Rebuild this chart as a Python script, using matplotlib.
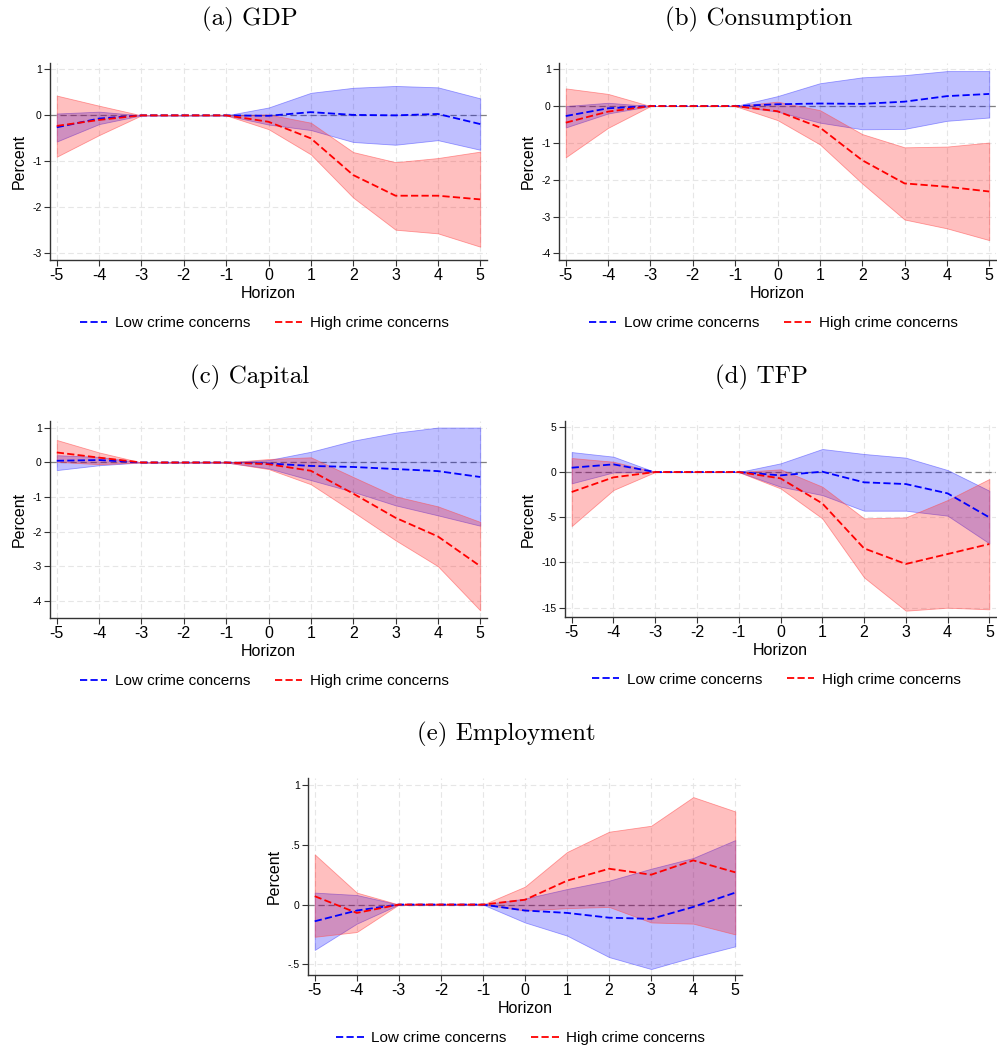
import numpy as np
import matplotlib.pyplot as plt
from matplotlib.lines import Line2D

plt.rcParams['font.family'] = ['Liberation Sans', 'DejaVu Sans']
plt.rcParams['axes.unicode_minus'] = False

horizon = [-5, -4, -3, -2, -1, 0, 1, 2, 3, 4, 5]

# (a) GDP
gdp_low = [-0.26, -0.07, 0, 0, 0, -0.01, 0.07, 0.01, 0.0, 0.03, -0.19]
gdp_low_hi = [0.04, 0.08, 0, 0, 0, 0.17, 0.49, 0.60, 0.64, 0.61, 0.37]
gdp_low_lo = [-0.57, -0.19, 0, 0, 0, -0.20, -0.32, -0.58, -0.64, -0.54, -0.75]
gdp_high = [-0.23, -0.10, 0, 0, 0, -0.14, -0.50, -1.30, -1.75, -1.75, -1.83]
gdp_high_hi = [0.43, 0.21, 0, 0, 0, 0.02, -0.16, -0.80, -1.02, -0.93, -0.79]
gdp_high_lo = [-0.90, -0.43, 0, 0, 0, -0.30, -0.85, -1.79, -2.49, -2.57, -2.86]

# (b) Consumption
con_low = [-0.27, -0.06, 0, 0, 0, 0.05, 0.07, 0.06, 0.12, 0.27, 0.33]
con_low_hi = [0.0, 0.09, 0, 0, 0, 0.27, 0.62, 0.78, 0.84, 0.95, 0.95]
con_low_lo = [-0.58, -0.20, 0, 0, 0, -0.15, -0.45, -0.63, -0.62, -0.40, -0.31]
con_high = [-0.45, -0.15, 0, 0, 0, -0.14, -0.58, -1.47, -2.10, -2.19, -2.32]
con_high_hi = [0.48, 0.33, 0, 0, 0, 0.12, -0.11, -0.76, -1.12, -1.10, -0.99]
con_high_lo = [-1.39, -0.59, 0, 0, 0, -0.38, -1.04, -2.10, -3.08, -3.32, -3.64]

# (c) Capital
cap_low = [0.05, 0.07, 0, 0, 0, -0.03, -0.10, -0.13, -0.19, -0.25, -0.42]
cap_low_hi = [0.21, 0.16, 0, 0, 0, 0.07, 0.31, 0.63, 0.86, 1.01, 1.01]
cap_low_lo = [-0.22, -0.08, 0, 0, 0, -0.17, -0.51, -0.85, -1.24, -1.53, -1.83]
cap_high = [0.29, 0.14, 0, 0, 0, -0.05, -0.24, -0.90, -1.60, -2.14, -3.00]
cap_high_hi = [0.65, 0.29, 0, 0, 0, 0.10, 0.15, -0.42, -0.98, -1.27, -1.72]
cap_high_lo = [0.02, -0.05, 0, 0, 0, -0.19, -0.63, -1.43, -2.25, -3.00, -4.28]

# (d) TFP
tfp_low = [0.48, 0.85, 0, 0, 0, -0.37, 0.04, -1.14, -1.33, -2.36, -5.02]
tfp_low_hi = [2.21, 1.70, 0, 0, 0, 0.96, 2.55, 2.00, 1.59, 0.22, -2.07]
tfp_low_lo = [-1.25, -0.04, 0, 0, 0, -1.62, -2.55, -4.28, -4.28, -4.83, -7.90]
tfp_high = [-2.21, -0.59, 0, 0, 0, -0.70, -3.47, -8.45, -10.18, -9.08, -7.97]
tfp_high_hi = [1.55, 1.14, 0, 0, 0, 0.30, -1.62, -5.13, -5.02, -3.10, -0.77]
tfp_high_lo = [-5.98, -1.99, 0, 0, 0, -1.81, -5.13, -11.66, -15.35, -15.02, -15.20]

# (e) Employment
emp_low = [-0.14, -0.05, 0, 0, 0, -0.05, -0.07, -0.11, -0.12, -0.02, 0.10]
emp_low_hi = [0.10, 0.08, 0, 0, 0, 0.05, 0.13, 0.20, 0.30, 0.39, 0.54]
emp_low_lo = [-0.38, -0.16, 0, 0, 0, -0.15, -0.26, -0.44, -0.54, -0.44, -0.35]
emp_high = [0.07, -0.07, 0, 0, 0, 0.04, 0.20, 0.30, 0.25, 0.37, 0.27]
emp_high_hi = [0.42, 0.10, 0, 0, 0, 0.15, 0.44, 0.61, 0.66, 0.90, 0.78]
emp_high_lo = [-0.27, -0.23, 0, 0, 0, -0.05, -0.03, -0.02, -0.15, -0.16, -0.25]

W, H = 997, 1050
fig = plt.figure(figsize=(W / 100, H / 100), dpi=100)


def rect(left, top, right, bottom):
    return [left / W, 1 - bottom / H, (right - left) / W, (bottom - top) / H]


def panel(box, title, low, low_hi, low_lo, high, high_hi, high_lo,
          yticks, ylim, yticklabels=None, legend_x=0.49):
    ax = fig.add_axes(rect(*box))
    x = np.array(horizon)
    ax.fill_between(x, low_lo, low_hi, facecolor=(0, 0, 1, 0.25),
                    edgecolor=(0.3, 0.3, 1, 0.55), lw=0.6, zorder=2)
    ax.fill_between(x, high_lo, high_hi, facecolor=(1, 0, 0, 0.25),
                    edgecolor=(1, 0.3, 0.3, 0.55), lw=0.6, zorder=2)
    ax.axhline(0, color='#808080', lw=0.9, ls=(0, (5, 3)), zorder=1)
    ax.plot(x, low, color='blue', lw=1.3, ls=(0, (4, 1.8)), zorder=3)
    ax.plot(x, high, color='red', lw=1.3, ls=(0, (4, 1.8)), zorder=3)

    ax.set_xlim(-5.16, 5.16)
    ax.set_ylim(*ylim)
    ax.set_xticks(horizon)
    ax.set_xticklabels([str(h) for h in horizon])
    ax.set_yticks(yticks)
    if yticklabels is not None:
        ax.set_yticklabels(yticklabels)
    ax.grid(True, color='#e6e6e6', ls=(0, (5, 3)), lw=0.8, zorder=0)
    ax.set_axisbelow(True)
    for s in ['top', 'right']:
        ax.spines[s].set_visible(False)
    for s in ['left', 'bottom']:
        ax.spines[s].set_color('#333333')
        ax.spines[s].set_linewidth(1.0)
    ax.tick_params(axis='x', labelsize=11.5, length=4, width=0.8,
                   color='#333333', pad=2)
    ax.tick_params(axis='y', labelsize=7.5, length=4, width=0.8,
                   color='#333333', pad=2)
    ax.set_xlabel('Horizon', fontsize=11.5, labelpad=2)
    ax.set_ylabel('Percent', fontsize=11.5, labelpad=4)
    # title is centred over the whole sub-graph, a bit left of the axes
    ax.set_title(title, family='cmr10', fontsize=18, pad=27,
                 x=0.5 - 19 / (box[2] - box[0]))

    handles = [Line2D([], [], color='blue', lw=1.3, ls=(0, (4, 1.8))),
               Line2D([], [], color='red', lw=1.3, ls=(0, (4, 1.8)))]
    ax.legend(handles, ['Low crime concerns', 'High crime concerns'],
              loc='center', bbox_to_anchor=(legend_x, -0.32), ncol=2,
              frameon=False, fontsize=11, handlelength=1.8,
              handletextpad=0.5, columnspacing=1.6)
    return ax


panel((50, 63, 487, 260), '(a) GDP', gdp_low, gdp_low_hi, gdp_low_lo,
      gdp_high, gdp_high_hi, gdp_high_lo,
      [-3, -2, -1, 0, 1], (-3.15, 1.14))
panel((559, 63, 996, 260), '(b) Consumption', con_low, con_low_hi, con_low_lo,
      con_high, con_high_hi, con_high_lo,
      [-4, -3, -2, -1, 0, 1], (-4.18, 1.17))
panel((50, 421, 487, 618), '(c) Capital', cap_low, cap_low_hi, cap_low_lo,
      cap_high, cap_high_hi, cap_high_lo,
      [-4, -3, -2, -1, 0, 1], (-4.5, 1.2))
panel((565, 421, 996, 617), '(d) TFP', tfp_low, tfp_low_hi, tfp_low_lo,
      tfp_high, tfp_high_hi, tfp_high_lo,
      [-15, -10, -5, 0, 5], (-16.05, 5.65))
panel((308, 778, 742, 975), '(e) Employment', emp_low, emp_low_hi, emp_low_lo,
      emp_high, emp_high_hi, emp_high_lo,
      [-0.5, 0, 0.5, 1], (-0.59, 1.06), yticklabels=['-.5', '0', '.5', '1'])

fig.savefig('out.png', dpi=100)
